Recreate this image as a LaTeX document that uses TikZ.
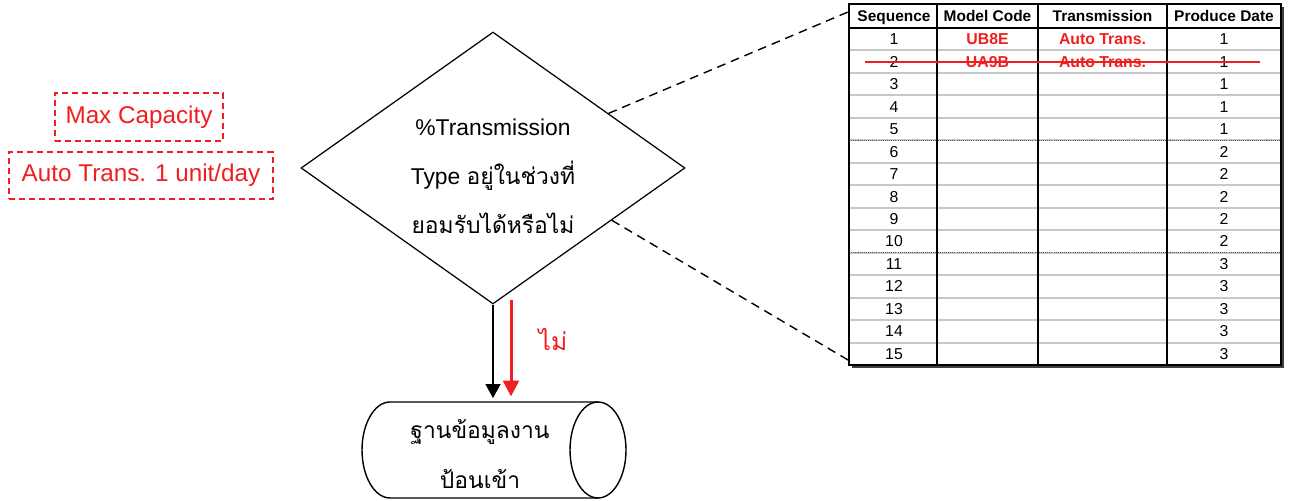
\documentclass[tikz,border=0pt]{standalone}
\usepackage{fontspec}
\setmainfont{Liberation Sans}
\newfontfamily\thai[Script=Thai]{Loma}
\usetikzlibrary{shapes.geometric,arrows.meta,calc}
\definecolor{rd}{RGB}{240,30,30}
\definecolor{gl}{RGB}{200,200,200}
\begin{document}
\begin{tikzpicture}[x=0.02cm,y=0.02cm,
  lbl/.style={draw=rd, dash pattern=on 3.4pt off 2.3pt, line width=0.85pt, text=rd,
    font=\fontsize{13.8}{16}\selectfont, inner sep=0},
  hdr/.style={font=\bfseries\fontsize{8.8}{10}\selectfont, text depth=0pt, inner sep=0},
  cell/.style={font=\fontsize{9}{10}\selectfont, text depth=0pt, inner sep=0},
  redcell/.style={cell, font=\bfseries\fontsize{9}{10}\selectfont, text=rd},
  conn/.style={dash pattern=on 5pt off 3.4pt, line width=0.8pt},
  thaitext/.style={align=center, font=\fontsize{13}{28}\selectfont}]
\useasboundingbox (0,0) rectangle (1293,500);

% left labels
\node[lbl, minimum width=3.36cm, minimum height=0.96cm] (maxcap) at (139,383) {Max Capacity};
\node[lbl, minimum width=5.28cm, minimum height=0.94cm] (auto) at (141,324.5) {Auto Trans. 1 unit/day};

% decision diamond
\node[draw, diamond, minimum width=7.68cm, minimum height=5.44cm, inner sep=0, aspect=1.41,
  line width=0.7pt] (dec) at (493,332) {};
\node[thaitext] (dtext) at (493,324) {\%Transmission\\Type {\thai อยู่ในช่วงที่}\\{\thai ยอมรับได้หรือไม่}};

% database cylinder
\node[minimum width=5.28cm, minimum height=1.92cm, inner sep=0] (db) at (494,50) {};
\draw[line width=0.8pt] (598,98) -- (390,98)
  arc[start angle=90, end angle=270, x radius=0.56cm, y radius=0.96cm] -- (598,2);
\draw[line width=0.8pt] (598,50) ellipse [x radius=0.56cm, y radius=0.96cm];
\node[thaitext] (dbt) at (480,46) {{\thai ฐานข้อมูลงาน}\\{\thai ป้อนเข้า}};

% arrows
\draw[line width=0.8pt, -{Triangle[length=8pt,width=8.5pt]}, shorten >=2pt]
  (dec.south) -- (dec.south |- db.north);
\coordinate (rs) at (511,200);
\draw[rd, line width=1.7pt, -{Triangle[length=9pt,width=9pt]}, shorten >=3pt]
  (rs) -- (rs |- db.north);
\node[text=rd, font=\thai\fontsize{14}{16}\selectfont] (no) at (553,160) {ไม่};

% table
\node[inner sep=0, minimum width=8.64cm, minimum height=7.22cm] (tbl) at (1065,315.5) {};
\foreach \k in {1,2,3,4,6,7,8,9,11,12,13,14}
  \draw[gl, line width=1.1pt] (849,{472-22.47*\k}) -- (1281,{472-22.47*\k});
\foreach \k in {5,10}{
  \draw[gl, line width=1.1pt] (849,{472-22.47*\k}) -- (1281,{472-22.47*\k});
  \draw[black!65, line width=0.9pt, dash pattern=on 0.6pt off 0.6pt] (849,{472-22.47*\k}) -- (1281,{472-22.47*\k});
}
\foreach \x in {937,1038,1167}
  \draw[line width=0.9pt] (\x,496) -- (\x,135);
\draw[line width=1.2pt] (849,472) -- (1281,472);
\draw[black!75, line width=1.2pt] ($(tbl.south west)+(3,-2)$) -- ($(tbl.south east)+(2,-2)$) -- ($(tbl.north east)+(2,-3)$);
\draw[line width=1.2pt] (tbl.south west) rectangle (tbl.north east);

\node[hdr] (h1) at (894,484) {Sequence};
\node[hdr] (h2) at (987.5,484) {Model Code};
\node[hdr] (h3) at (1102.5,484) {Transmission};
\node[hdr] (h4) at (1224,484) {Produce Date};

\foreach \i/\d in {1/1,2/1,3/1,4/1,5/1,6/2,7/2,8/2,9/2,10/2,11/3,12/3,13/3,14/3,15/3}{
  \node[cell] (s\i) at (894,{472-22.47*(\i-0.5)}) {\i};
  \node[cell] (p\i) at (1224,{472-22.47*(\i-0.5)}) {\d};
}
\node[redcell] (m1) at (987.5,{472-22.47*0.5}) {UB8E};
\node[redcell] (t1c) at (1102.5,{472-22.47*0.5}) {Auto Trans.};
\node[redcell] (m2) at (987.5,{472-22.47*1.5}) {UA9B};
\node[redcell] (t2c) at (1102.5,{472-22.47*1.5}) {Auto Trans.};
\coordinate (strikeA) at (865,438);
\coordinate (strikeB) at (1260,438);
\draw[rd, line width=0.8pt] (strikeA) -- (strikeB);

% dashed zoom connectors
\coordinate (ta) at (848,488);
\coordinate (tb) at (848,140);
\draw[conn] ($(dec.north)!0.6!(dec.east)$) -- (ta);
\draw[conn] ($(dec.east)!0.383!(dec.south)$) -- (tb);
\end{tikzpicture}
\end{document}
